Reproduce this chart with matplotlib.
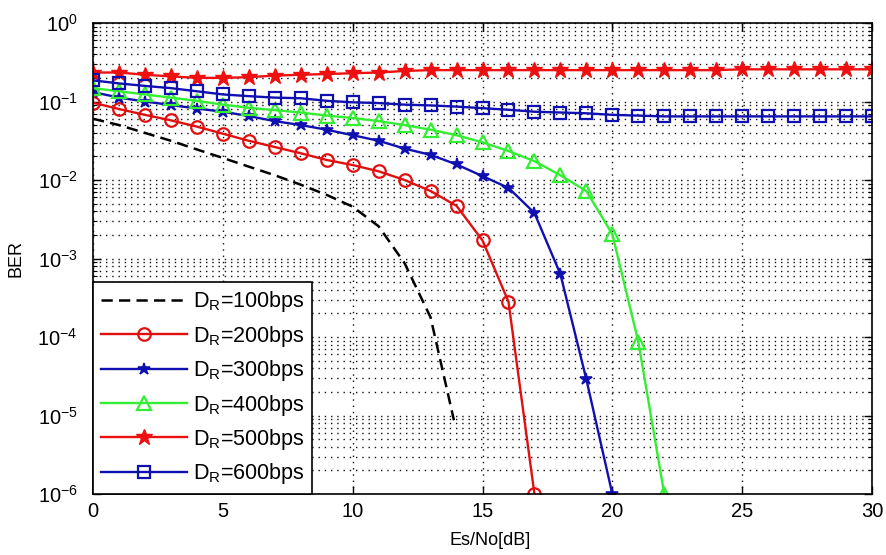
import numpy as np
import matplotlib
matplotlib.use('Agg')
import matplotlib.pyplot as plt
from matplotlib.ticker import FixedLocator, NullFormatter

plt.rcParams['font.family'] = ['Liberation Sans', 'DejaVu Sans']
plt.rcParams['mathtext.fontset'] = 'custom'
plt.rcParams['mathtext.rm'] = 'Liberation Sans'
plt.rcParams['mathtext.it'] = 'Liberation Sans'

# Es/No [dB] axis points
snr_100 = [0, 1, 2, 3, 4, 5, 6, 7, 8, 9, 10, 11, 12, 13, 13.9]
snr_200 = list(range(0, 18))
snr_300 = list(range(0, 21))
snr_400 = list(range(0, 23))
snr_500 = list(range(0, 31))
snr_600 = list(range(0, 31))

# BER values
ber_100 = [0.0603, 0.0501, 0.0398, 0.0316, 0.0245, 0.0191, 0.0148, 0.0115,
           0.00871, 0.00646, 0.00457, 0.00257, 0.000871, 0.000178, 8.7e-6]
ber_200 = [0.0966, 0.0802, 0.0676, 0.0575, 0.0479, 0.0389, 0.0316, 0.0263,
           0.0219, 0.0180, 0.0155, 0.0129, 0.0100, 0.00724, 0.00468, 0.00170,
           0.000282, 1.0e-6]
ber_300 = [0.132, 0.112, 0.100, 0.0902, 0.0813, 0.0741, 0.0653, 0.0562,
           0.0501, 0.0437, 0.0372, 0.0316, 0.0251, 0.0209, 0.0158, 0.0112,
           0.00794, 0.00380, 0.000631, 2.88e-5, 1.0e-6]
ber_400 = [0.148, 0.135, 0.123, 0.112, 0.102, 0.0912, 0.0832, 0.0776,
           0.0724, 0.0661, 0.0617, 0.0562, 0.0501, 0.0437, 0.0372, 0.0302,
           0.0234, 0.0174, 0.0115, 0.00724, 0.00204, 8.71e-5, 1.0e-6]
ber_500 = [0.234, 0.234, 0.219, 0.209, 0.200, 0.200, 0.204, 0.214, 0.219,
           0.224, 0.229, 0.234, 0.245, 0.251, 0.251, 0.251, 0.251, 0.251,
           0.251, 0.251, 0.251, 0.251, 0.251, 0.251, 0.251, 0.257, 0.257,
           0.257, 0.257, 0.257, 0.257]
ber_600 = [0.186, 0.170, 0.158, 0.148, 0.135, 0.123, 0.117, 0.112, 0.110,
           0.102, 0.0977, 0.0955, 0.0912, 0.0891, 0.0861, 0.0822, 0.0785,
           0.0741, 0.0724, 0.0708, 0.0676, 0.0661, 0.0646, 0.0646, 0.0646,
           0.0646, 0.0646, 0.0646, 0.0646, 0.0646, 0.0646]

labels = [r'D$_\mathrm{R}$=100bps', r'D$_\mathrm{R}$=200bps', r'D$_\mathrm{R}$=300bps',
          r'D$_\mathrm{R}$=400bps', r'D$_\mathrm{R}$=500bps', r'D$_\mathrm{R}$=600bps']
x_ticks = [0, 5, 10, 15, 20, 25, 30]
y_ticks = [1e-6, 1e-5, 1e-4, 1e-3, 1e-2, 1e-1, 1]

fig = plt.figure(figsize=(8.86, 5.55), dpi=100)
ax = fig.add_axes([93 / 886, 1 - 494 / 555, (872 - 93) / 886, (494 - 23) / 555])

# кривые
ax.semilogy(snr_100, ber_100, color='k', lw=1.8, dashes=(4.5, 2.5), label=labels[0])
ax.semilogy(snr_200, ber_200, color='#e01010', lw=1.7, marker='o', ms=9,
            mfc='none', mew=1.6, label=labels[1])
ax.semilogy(snr_300, ber_300, color='#1010b0', lw=1.7, marker='*', ms=9,
            mew=1.2, label=labels[2])
ax.semilogy(snr_400, ber_400, color='#33ee33', lw=1.7, marker='^', ms=10,
            mfc='none', mew=1.6, label=labels[3])
ax.semilogy(snr_500, ber_500, color='#ee1010', lw=1.7, marker='*', ms=12,
            mew=1.0, label=labels[4])
ax.semilogy(snr_600, ber_600, color='#1010b0', lw=1.7, marker='s', ms=9,
            mfc='none', mew=1.6, label=labels[5])

ax.set_xlim(0, 30)
ax.set_ylim(1e-6, 1)
ax.set_xticks(x_ticks)
ax.set_yticks(y_ticks)
minor = [m * d for d in y_ticks[:-1] for m in range(2, 10)]
ax.yaxis.set_minor_locator(FixedLocator(minor))
ax.yaxis.set_minor_formatter(NullFormatter())

dots = (0, (1, 3.5))
ax.grid(True, which='major', linestyle=dots, color='#111111', lw=1.0)
ax.grid(True, which='minor', axis='y', linestyle=dots, color='#111111', lw=1.0)

ax.tick_params(which='both', direction='in', top=True, right=True, labelsize=14.5)
ax.tick_params(which='major', length=6, width=1)
ax.tick_params(axis='x', which='major', pad=6)
ax.tick_params(axis='y', which='major', pad=11)
ax.tick_params(which='minor', length=3, width=0.8)
for s in ax.spines.values():
    s.set_linewidth(1.2)

ax.set_xlabel('Es/No[dB]', fontsize=13)
ax.set_ylabel('BER', fontsize=13)
ax.xaxis.set_label_coords(0.51, -0.08)
ax.yaxis.set_label_coords(-0.088, 0.5)

leg = ax.legend(loc='lower left', fontsize=15.5, borderaxespad=0, handlelength=4.0,
                labelspacing=0.44, fancybox=False, framealpha=1, edgecolor='k',
                borderpad=0.35, handletextpad=0.3)
leg.get_frame().set_linewidth(1.2)

fig.savefig('out.png', dpi=100)
